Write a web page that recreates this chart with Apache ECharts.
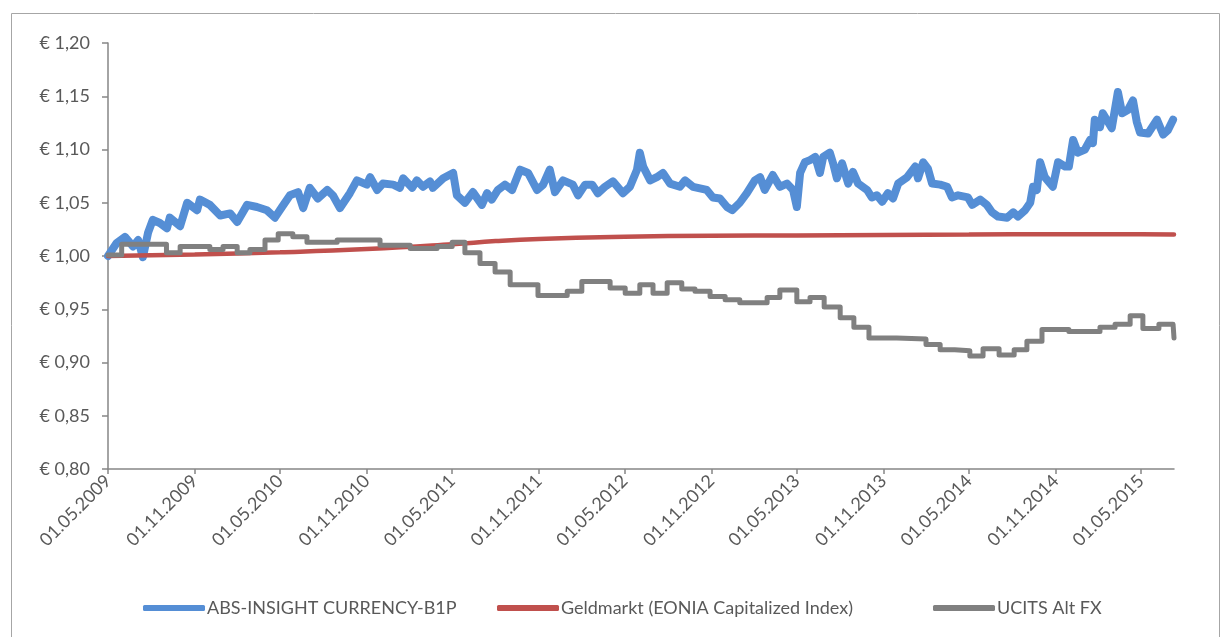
<!DOCTYPE html>
<html>
<head>
<meta charset="utf-8">
<script src="https://cdn.jsdelivr.net/npm/echarts@6/dist/echarts.min.js"></script>
<style>
  html, body { margin: 0; padding: 0; background: #fff; }
  #chart { width: 1221px; height: 637px; }
</style>
</head>
<body>
<div id="chart"></div>
<script>
// Achsen-Ticks (halbjährlich)
const tickDates = ['2009-05-01', '2009-11-01', '2010-05-01', '2010-11-01', '2011-05-01', '2011-11-01', '2012-05-01',
  '2012-11-01', '2013-05-01', '2013-11-01', '2014-05-01', '2014-11-01', '2015-05-01'];
const axisStart = '2009-05-01';
const axisEnd = '2015-07-10';

const seriesNames = ['ABS-INSIGHT CURRENCY-B1P', 'Geldmarkt (EONIA Capitalized Index)', 'UCITS Alt FX'];

// ABS-INSIGHT CURRENCY-B1P
const absDates = ['2009-05-01', '2009-05-05', '2009-05-19', '2009-06-06', '2009-06-23', '2009-07-04', '2009-07-14', '2009-07-25',
  '2009-08-04', '2009-08-19', '2009-09-03', '2009-09-09', '2009-10-01', '2009-10-16', '2009-11-06', '2009-11-12',
  '2009-12-03', '2009-12-25', '2010-01-15', '2010-01-30', '2010-02-20', '2010-03-13', '2010-04-03', '2010-04-20',
  '2010-05-05', '2010-05-22', '2010-06-08', '2010-06-19', '2010-07-03', '2010-07-20', '2010-08-09', '2010-08-21',
  '2010-09-05', '2010-09-26', '2010-10-11', '2010-11-01', '2010-11-08', '2010-11-23', '2010-12-05', '2010-12-27',
  '2011-01-10', '2011-01-17', '2011-02-05', '2011-02-15', '2011-02-28', '2011-03-15', '2011-03-21', '2011-04-12',
  '2011-05-03', '2011-05-11', '2011-05-28', '2011-06-14', '2011-07-03', '2011-07-14', '2011-07-24', '2011-08-06',
  '2011-08-21', '2011-09-05', '2011-09-22', '2011-10-09', '2011-10-28', '2011-11-10', '2011-11-24', '2011-12-05',
  '2011-12-22', '2012-01-12', '2012-01-23', '2012-02-07', '2012-02-22', '2012-03-05', '2012-03-20', '2012-04-06',
  '2012-04-27', '2012-05-12', '2012-05-27', '2012-06-02', '2012-06-09', '2012-06-24', '2012-07-08', '2012-07-21',
  '2012-08-05', '2012-08-26', '2012-09-06', '2012-09-23', '2012-10-22', '2012-11-04', '2012-11-19', '2012-12-04',
  '2012-12-15', '2012-12-31', '2013-01-15', '2013-02-01', '2013-02-12', '2013-02-22', '2013-03-11', '2013-03-26',
  '2013-04-10', '2013-04-23', '2013-05-01', '2013-05-08', '2013-05-18', '2013-05-29', '2013-06-09', '2013-06-19',
  '2013-06-26', '2013-07-10', '2013-07-17', '2013-07-25', '2013-08-05', '2013-08-18', '2013-08-28', '2013-09-08',
  '2013-09-27', '2013-10-07', '2013-10-18', '2013-10-29', '2013-11-10', '2013-11-21', '2013-12-02', '2013-12-21',
  '2014-01-07', '2014-01-13', '2014-01-24', '2014-02-03', '2014-02-12', '2014-03-01', '2014-03-16', '2014-03-26',
  '2014-04-08', '2014-04-29', '2014-05-08', '2014-05-25', '2014-06-08', '2014-06-19', '2014-07-02', '2014-07-21',
  '2014-08-03', '2014-08-13', '2014-08-28', '2014-09-08', '2014-09-14', '2014-09-22', '2014-09-29', '2014-10-09',
  '2014-10-26', '2014-11-06', '2014-11-21', '2014-11-29', '2014-12-08', '2014-12-18', '2015-01-02', '2015-01-13',
  '2015-01-19', '2015-01-23', '2015-02-03', '2015-02-09', '2015-02-28', '2015-03-13', '2015-03-22', '2015-04-03',
  '2015-04-14', '2015-04-22', '2015-04-29', '2015-05-16', '2015-06-04', '2015-06-17', '2015-06-27', '2015-07-08'];
const absValues = [1.000, 0.999, 1.012, 1.018, 1.009, 1.015, 0.999, 1.022,
  1.034, 1.031, 1.026, 1.036, 1.028, 1.050, 1.043, 1.053,
  1.048, 1.038, 1.040, 1.032, 1.048, 1.046, 1.043, 1.036,
  1.046, 1.057, 1.060, 1.045, 1.064, 1.054, 1.062, 1.057,
  1.045, 1.059, 1.071, 1.067, 1.074, 1.062, 1.068, 1.067,
  1.064, 1.073, 1.064, 1.071, 1.065, 1.070, 1.064, 1.073,
  1.078, 1.057, 1.050, 1.060, 1.048, 1.059, 1.053, 1.062,
  1.067, 1.062, 1.081, 1.078, 1.062, 1.067, 1.081, 1.060,
  1.071, 1.067, 1.057, 1.067, 1.067, 1.059, 1.065, 1.070,
  1.059, 1.065, 1.081, 1.097, 1.084, 1.071, 1.074, 1.078,
  1.068, 1.065, 1.071, 1.065, 1.062, 1.055, 1.054, 1.046,
  1.043, 1.050, 1.059, 1.071, 1.074, 1.062, 1.076, 1.065,
  1.068, 1.062, 1.046, 1.078, 1.088, 1.090, 1.093, 1.078,
  1.093, 1.097, 1.087, 1.073, 1.087, 1.068, 1.079, 1.068,
  1.062, 1.055, 1.057, 1.051, 1.059, 1.054, 1.068, 1.074,
  1.084, 1.073, 1.088, 1.082, 1.068, 1.067, 1.065, 1.055,
  1.057, 1.055, 1.048, 1.053, 1.048, 1.041, 1.037, 1.036,
  1.041, 1.037, 1.043, 1.050, 1.065, 1.062, 1.088, 1.074,
  1.065, 1.088, 1.084, 1.084, 1.109, 1.097, 1.100, 1.109,
  1.106, 1.128, 1.121, 1.134, 1.120, 1.154, 1.134, 1.137,
  1.146, 1.126, 1.116, 1.115, 1.128, 1.114, 1.118, 1.128];

// Geldmarkt (EONIA Capitalized Index)
const eoniaDates = ['2009-05-01', '2009-11-01', '2010-05-01', '2010-11-01', '2011-05-01', '2011-08-01', '2011-11-01',
  '2012-05-01', '2012-11-01', '2013-05-01', '2013-11-01', '2014-05-01', '2014-11-01', '2015-05-01', '2015-07-10'];
const eoniaValues = [1.000, 1.0015, 1.0035, 1.0065, 1.011, 1.014, 1.016,
  1.018, 1.019, 1.0193, 1.0197, 1.0201, 1.0205, 1.0205, 1.0202];

// UCITS Alt FX (monatliche Stufen)
const ucitsDates = ['2009-05-01', '2009-05-30', '2009-09-02', '2009-10-01', '2009-12-03', '2009-12-31', '2010-01-30',
  '2010-02-26', '2010-03-30', '2010-04-27', '2010-05-28', '2010-06-27', '2010-08-30', '2010-11-29', '2011-02-01',
  '2011-03-30', '2011-05-01', '2011-05-28', '2011-06-29', '2011-07-31', '2011-09-01', '2011-10-30', '2011-12-31',
  '2012-01-31', '2012-03-31', '2012-05-02', '2012-06-02', '2012-06-30', '2012-07-30', '2012-08-30', '2012-09-27',
  '2012-10-29', '2012-11-30', '2012-12-31', '2013-02-27', '2013-03-26', '2013-05-01', '2013-05-29', '2013-06-28',
  '2013-08-01', '2013-08-30', '2013-10-01', '2013-11-29', '2014-01-30', '2014-03-01', '2014-04-01', '2014-05-03',
  '2014-05-31', '2014-07-04', '2014-08-05', '2014-09-01', '2014-10-03', '2014-11-29', '2015-02-03', '2015-03-07',
  '2015-04-08', '2015-05-05', '2015-06-08', '2015-07-08', '2015-07-10'];
const ucitsValues = [1.001, 1.011, 1.003, 1.009, 1.006, 1.009, 1.003,
  1.006, 1.015, 1.021, 1.018, 1.013, 1.015, 1.010, 1.007,
  1.009, 1.013, 1.003, 0.993, 0.985, 0.973, 0.963, 0.967,
  0.976, 0.970, 0.965, 0.973, 0.965, 0.975, 0.969, 0.967,
  0.962, 0.959, 0.956, 0.961, 0.968, 0.957, 0.961, 0.952,
  0.942, 0.933, 0.923, 0.922, 0.917, 0.912, 0.911, 0.906,
  0.913, 0.907, 0.912, 0.920, 0.931, 0.929, 0.933, 0.936,
  0.944, 0.932, 0.936, 0.936, 0.923];

const toTime = (s) => {
  const [y, m, d] = s.split('-').map(Number);
  return new Date(y, m - 1, d).getTime();
};
const zip = (dates, values) => dates.map((d, i) => [toTime(d), values[i]]);
const pad = (n) => (n < 10 ? '0' + n : '' + n);

// Lato kommt Calibri am nächsten
const fontFamily = 'Lato, "Open Sans", sans-serif';
const textColor = '#595959';
const axisColor = '#868686';
const ticks = tickDates.map(toTime);

// eine Legende je Serie, damit die Abstände wie im Excel-Original sitzen
const legendLeft = [143, 497, 933];
const makeLegend = (name, i) => ({
  bottom: 20,
  left: legendLeft[i],
  padding: 0,
  itemWidth: 62,
  itemHeight: 6,
  icon: 'roundRect',
  textStyle: { color: textColor, fontSize: 18, fontFamily, padding: [0, 0, 0, -3] },
  data: [name]
});

const chart = echarts.init(document.getElementById('chart'));

chart.setOption({
  animation: false,
  backgroundColor: '#fff',
  textStyle: { fontFamily },
  graphic: [{
    type: 'rect',
    shape: { x: 11.5, y: 13.5, width: 1208, height: 700 },
    style: { fill: 'none', stroke: '#a6a6a6', lineWidth: 1 },
    silent: true
  }],
  grid: { left: 108, right: 47, top: 43, bottom: 168, containLabel: false },
  legend: seriesNames.map(makeLegend),
  xAxis: {
    // Zeitstempel auf einer Wertachse, damit die Ticks exakt auf 01.05./01.11. sitzen
    type: 'value',
    min: toTime(axisStart),
    max: toTime(axisEnd),
    splitLine: { show: false },
    axisLine: { lineStyle: { color: axisColor, width: 1.5 } },
    axisTick: {
      show: true,
      length: 5,
      lineStyle: { color: axisColor, width: 1.5 },
      customValues: ticks
    },
    axisLabel: {
      rotate: 45,
      color: textColor,
      fontSize: 18,
      fontFamily,
      margin: 9,
      customValues: ticks,
      formatter: (v) => {
        const d = new Date(v);
        return pad(d.getDate()) + '.' + pad(d.getMonth() + 1) + '.' + d.getFullYear();
      }
    }
  },
  yAxis: {
    type: 'value',
    min: 0.8,
    max: 1.2,
    interval: 0.05,
    splitLine: { show: false },
    axisLine: { show: true, lineStyle: { color: axisColor, width: 1.5 } },
    axisTick: { show: true, length: 6, lineStyle: { color: axisColor, width: 1.5 } },
    axisLabel: {
      color: textColor,
      fontSize: 18,
      fontFamily,
      margin: 18,
      formatter: (v) => '€ ' + v.toFixed(2).replace('.', ',')
    }
  },
  series: [
    {
      name: seriesNames[0],
      type: 'line',
      showSymbol: false,
      data: zip(absDates, absValues),
      lineStyle: { color: '#558ED5', width: 8, cap: 'round', join: 'round' },
      itemStyle: { color: '#558ED5' }
    },
    {
      name: seriesNames[1],
      type: 'line',
      showSymbol: false,
      smooth: true,
      data: zip(eoniaDates, eoniaValues),
      lineStyle: { color: '#C0504D', width: 4.5, cap: 'round' },
      itemStyle: { color: '#C0504D' }
    },
    {
      name: seriesNames[2],
      type: 'line',
      showSymbol: false,
      step: 'end',
      data: zip(ucitsDates, ucitsValues),
      lineStyle: { color: '#808080', width: 5, join: 'round', cap: 'round' },
      itemStyle: { color: '#808080' }
    }
  ]
});
</script>
</body>
</html>
